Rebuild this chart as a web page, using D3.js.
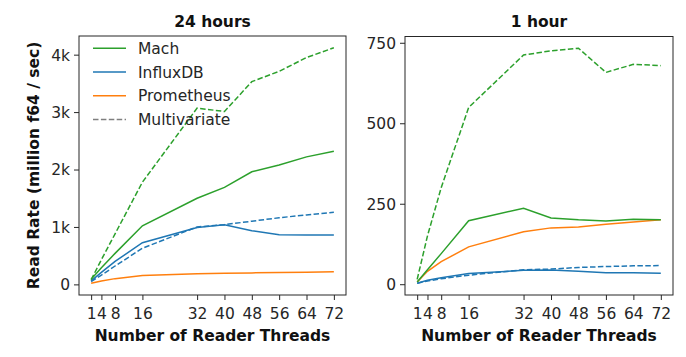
<!DOCTYPE html>
<html><head><meta charset="utf-8">
<script src="https://cdn.jsdelivr.net/npm/d3@7"></script>
<style>
body{margin:0;background:#fff;}
svg{display:block;font-family:"DejaVu Sans",sans-serif;}
</style></head>
<body><svg id="c" width="686" height="357"></svg>
<script>
const threads = [1, 4, 8, 16, 32, 40, 48, 56, 64, 72];
const xTicks = [1, 4, 8, 16, 32, 40, 48, 56, 64, 72];

// 24 hours panel
const h24_mach      = [90, 290, 540, 1020, 1500, 1690, 1960, 2080, 2220, 2320];
const h24_mach_mv   = [80, 430, 880, 1780, 3070, 3010, 3530, 3710, 3950, 4120];
const h24_influx    = [60, 210, 400, 725, 990, 1040, 935, 865, 860, 860];
const h24_influx_mv = [50, 160, 320, 630, 1000, 1040, 1100, 1160, 1210, 1255];
const h24_prom      = [20, 60, 100, 155, 185, 195, 200, 205, 210, 220];
const h24_yTicks = [0, 1000, 2000, 3000, 4000];
const h24_yLabels = ["0", "1k", "2k", "3k", "4k"];

// 1 hour panel
const h1_mach      = [7, 45, 95, 197, 236, 206, 200, 196, 202, 200];
const h1_mach_mv   = [15, 150, 300, 549, 712, 725, 733, 658, 683, 679];
const h1_influx    = [3, 12, 20, 33, 43, 44, 40, 36, 36, 34];
const h1_influx_mv = [3, 10, 17, 28, 45, 47, 52, 55, 57, 58];
const h1_prom      = [7, 40, 70, 116, 163, 175, 178, 186, 193, 200];
const h1_yTicks = [0, 250, 500, 750];
const h1_yLabels = ["0", "250", "500", "750"];

const legendNames = ["Mach", "InfluxDB", "Prometheus", "Multivariate"];

const C = {green: "#2ca02c", blue: "#1f77b4", orange: "#ff7f0e", grey: "#7f7f7f"};
const FS = 15.5;
const svg = d3.select("#c");

function pad(lo, hi) { const p = (hi - lo) * 0.05; return [lo - p, hi + p]; }

function panel(opt) {
  const {left, right, top, bottom, title, series, yTicks, yLabels, ylabel, legend} = opt;
  const x = d3.scaleLinear().domain(pad(d3.min(threads), d3.max(threads))).range([left, right]);
  const all = series.flatMap(s => s.v);
  const y = d3.scaleLinear().domain(pad(d3.min(all), d3.max(all))).range([bottom, top]);
  const g = svg.append("g");

  const line = d3.line().x((d, i) => x(threads[i])).y(d => y(d));
  series.forEach(s => {
    g.append("path").datum(s.v).attr("d", line)
      .attr("fill", "none").attr("stroke", s.c).attr("stroke-width", 1.5)
      .attr("stroke-dasharray", s.dash ? "5.5,2.4" : null);
  });

  g.append("rect").attr("x", left).attr("y", top).attr("width", right - left).attr("height", bottom - top)
    .attr("fill", "none").attr("stroke", "#262626").attr("stroke-width", 1);

  const xa = g.append("g").attr("transform", `translate(0,${bottom})`)
    .call(d3.axisBottom(x).tickValues(xTicks).tickSize(5).tickPadding(4).tickFormat(d3.format("d")));
  const ya = g.append("g").attr("transform", `translate(${left},0)`)
    .call(d3.axisLeft(y).tickValues(yTicks).tickSize(5).tickPadding(4).tickFormat((d, i) => yLabels[i]));
  [xa, ya].forEach(a => {
    a.select(".domain").remove();
    a.selectAll("line").attr("stroke", "#262626");
    a.selectAll("text").attr("font-family", "DejaVu Sans").attr("font-size", FS).attr("fill", "#262626");
  });
  xa.selectAll("text").attr("y", 24).attr("dy", null);
  ya.selectAll("text").attr("dy", "0.35em");

  g.append("text").attr("x", (left + right) / 2).attr("y", 27).attr("text-anchor", "middle")
    .attr("font-weight", "bold").attr("font-size", FS).attr("fill", "#111").text(title);
  g.append("text").attr("x", (left + right) / 2).attr("y", 340.5).attr("text-anchor", "middle")
    .attr("font-weight", "bold").attr("font-size", FS).attr("fill", "#111").text("Number of Reader Threads");
  if (ylabel) {
    g.append("text").attr("transform", `translate(38.5,${(top + bottom) / 2}) rotate(-90)`)
      .attr("text-anchor", "middle").attr("font-weight", "bold").attr("font-size", FS).attr("fill", "#111").text(ylabel);
  }
  if (legend) {
    const items = [
      {n: legendNames[0], c: C.green, dash: false},
      {n: legendNames[1], c: C.blue, dash: false},
      {n: legendNames[2], c: C.orange, dash: false},
      {n: legendNames[3], c: C.grey, dash: true}
    ];
    items.forEach((it, i) => {
      const yy = 48.3 + i * 23.7;
      g.append("line").attr("x1", left + 14).attr("x2", left + 47).attr("y1", yy).attr("y2", yy)
        .attr("stroke", it.c).attr("stroke-width", 1.5).attr("stroke-dasharray", it.dash ? "5.5,2.4" : null);
      g.append("text").attr("x", left + 59).attr("y", yy + 5.6).attr("font-size", FS).attr("fill", "#262626").text(it.n);
    });
  }
}

panel({
  left: 79, right: 346, top: 36, bottom: 295, title: "24 hours",
  series: [
    {v: h24_prom, c: C.orange}, {v: h24_influx_mv, c: C.blue, dash: true}, {v: h24_influx, c: C.blue},
    {v: h24_mach_mv, c: C.green, dash: true}, {v: h24_mach, c: C.green}
  ],
  yTicks: h24_yTicks, yLabels: h24_yLabels, ylabel: "Read Rate (million f64 / sec)", legend: true
});
panel({
  left: 405, right: 673, top: 36.5, bottom: 295, title: "1 hour",
  series: [
    {v: h1_prom, c: C.orange}, {v: h1_influx_mv, c: C.blue, dash: true}, {v: h1_influx, c: C.blue},
    {v: h1_mach_mv, c: C.green, dash: true}, {v: h1_mach, c: C.green}
  ],
  yTicks: h1_yTicks, yLabels: h1_yLabels, ylabel: null, legend: false
});
</script></body></html>
